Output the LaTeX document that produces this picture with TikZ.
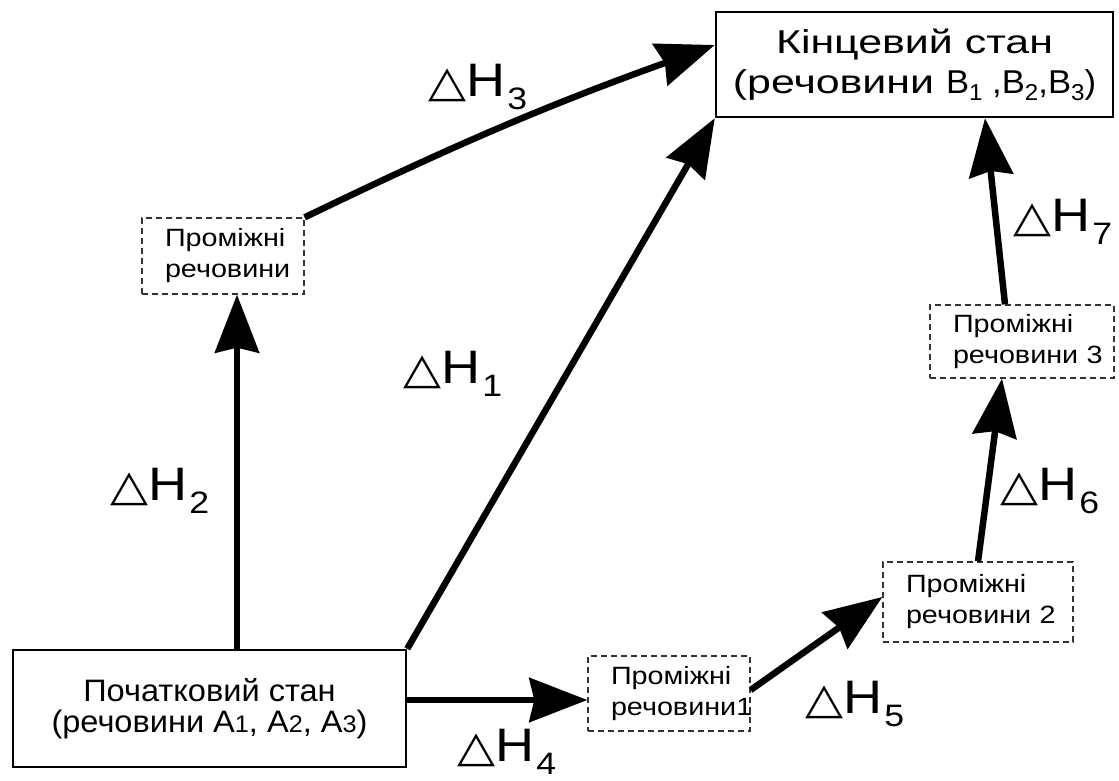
\documentclass[tikz,border=0pt]{standalone}
\usepackage{fontspec}
\setmainfont{Liberation Sans}[FakeStretch=1.15]
\newfontfamily\finfont{Liberation Sans}[FakeStretch=1.3]
\newfontfamily\inifont{Liberation Sans}[FakeStretch=1.05]
\newfontfamily\symfont{DejaVu Sans}[FakeStretch=1.15]
\usetikzlibrary{arrows.meta}
\newcommand\dH[1]{{\symfont\fontsize{43}{43}\selectfont △}H\kern2pt\raisebox{-13pt}{\fontsize{31}{31}\selectfont #1}}
\newcommand\subsc[1]{\raisebox{-7pt}{\fontsize{23}{23}\selectfont #1}}
\newcommand\smalld[1]{{\fontsize{24}{24}\selectfont #1}}
\begin{document}
\begin{tikzpicture}[x=1pt,y=-1pt,
  bigbox/.style={draw, line width=2.5pt, align=center, inner sep=0pt},
  smallbox/.style={draw=black!80, dashed, line width=1.3pt, dash pattern=on 6pt off 4pt,
     inner xsep=23pt, inner ysep=0pt, align=left, font=\fontsize{25}{31}\selectfont},
  arr/.style={line width=6.5pt, -{Stealth[length=58pt,width=44pt,inset=5pt]}},
  lbl/.style={inner sep=0pt, anchor=base west, font=\fontsize{47}{47}\selectfont}]
\useasboundingbox (0,0) rectangle (1119,781);
% boxes
\node[bigbox, minimum width=397pt, minimum height=105pt, font=\finfont\fontsize{33}{40}\selectfont]
  (fin) at (914.5,64.5) {Кінцевий стан\\(речовини {\inifont B\subsc{1} ,B\subsc{2},B\subsc{3})}};
\node[bigbox, minimum width=393pt, minimum height=117pt, font=\inifont\fontsize{31}{31}\selectfont]
  (ini) at (209.5,708.5) {Початковий стан\\(речовини A\smalld{1}, A\smalld{2}, A\smalld{3})};
\node[smallbox, text width=116pt, minimum height=76pt] (intL) at (223,256) {Проміжні\\речовини};
\node[smallbox, text width=116pt, minimum height=75pt] (int1) at (669,693.5) {Проміжні\\речовини1};
\node[smallbox, text width=144pt, minimum height=80pt] (int2) at (978,602) {Проміжні\\речовини~2};
\node[smallbox, text width=138pt, minimum height=73pt] (int3) at (1022,341.5) {Проміжні\\речовини~3};
% arrows
\draw[arr] ([xshift=14pt]intL.south |- ini.north) -- ([xshift=14pt]intL.south);
\draw[arr] (intL.north east) to[bend left=3] ([yshift=19.5pt]fin.west);
\draw[arr] (ini.north east) -- (fin.south west);
\draw[arr] ([yshift=8.5pt]ini.east) -- ([yshift=-6.5pt]int1.west);
\draw[arr] ([yshift=3.5pt]int1.east) -- ([yshift=5pt]int2.west);
\draw[arr] (int2.north) -- ([xshift=-20pt]int3.south);
\draw[arr] ([xshift=-17pt]int3.north) -- ([xshift=70.5pt]fin.south);
% labels
\node[lbl] (h3) at (428,97) {\dH{3}};
\node[lbl] (h2) at (110,500) {\dH{2}};
\node[lbl] (h1) at (403,383) {\dH{1}};
\node[lbl] (h4) at (457,761) {\dH{4}};
\node[lbl] (h5) at (805,713) {\dH{5}};
\node[lbl] (h6) at (1000,500) {\dH{6}};
\node[lbl] (h7) at (1013,231) {\dH{7}};
\end{tikzpicture}
\end{document}
